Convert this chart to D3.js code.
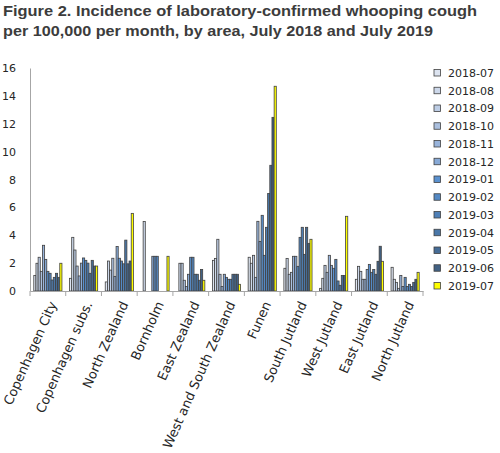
<!DOCTYPE html>
<html><head><meta charset="utf-8">
<script src="https://cdn.jsdelivr.net/npm/d3@7"></script>
<style>body{margin:0;background:#fff}svg{display:block}</style>
</head><body>
<svg id="c" width="500" height="453"></svg>
<script>
const areas = ["Copenhagen City","Copenhagen subs.","North Zealand","Bornholm","East Zealand","West and South Zealand","Funen","South Jutland","West Jutland","East Jutland","North Jutland"];
const months = ["2018-07","2018-08","2018-09","2018-10","2018-11","2018-12","2019-01","2019-02","2019-03","2019-04","2019-05","2019-06","2019-07"];
const monthColors = ["#dde4f0","#cdd8ea","#bdcde5","#abc0df","#99b4db","#87a9d6","#5a91cf","#5489c4","#4f80b7","#4a77a8","#466c96","#426183","#ffff00"];
// values per area, one per month (2018-07 .. 2019-07)
const copenhagenCity   = [1.12,1.99,2.42,1.41,3.28,2.27,1.41,1.27,0.79,0.98,1.27,0.98,1.99];
const copenhagenSubs   = [0.91,3.85,2.94,1.79,1.08,2.0,2.37,2.2,2.0,1.27,2.2,1.79,1.79];
const northZealand     = [0.65,2.15,1.5,2.35,1.05,3.2,2.35,2.15,1.95,3.65,1.95,2.15,5.57];
const bornholm         = [0,4.98,0,0,0,2.49,2.49,2.49,0,0,0,0,2.49];
const eastZealand      = [0,1.99,1.99,0.77,0.33,1.2,2.42,2.42,1.2,1.2,0.77,1.55,0.77];
const westSouthZealand = [2.2,2.34,3.71,1.2,0.33,1.2,0.98,0.84,0.84,1.2,1.2,1.2,0.48];
const funen            = [2.42,1.99,2.56,0.98,5.0,3.56,5.43,2.56,4.57,7.0,9.02,12.46,14.69];
const southJutland     = [1.63,2.34,1.2,1.34,2.49,2.49,1.77,3.85,4.57,2.63,4.57,3.42,3.71];
const westJutland      = [0.19,0.91,1.84,1.34,2.56,1.84,1.63,2.27,0.72,0.41,1.12,1.12,5.36];
const eastJutland      = [0.84,1.77,1.41,0.84,0.84,1.55,1.91,1.34,1.55,1.2,2.13,3.21,2.13];
const northJutland     = [1.7,0.84,0.62,0.19,1.12,0.33,0.98,0.33,0.48,0.33,0.62,0.84,1.34];
const yTicks = [0,2,4,6,8,10,12,14,16];
const titleLines = ["Figure 2. Incidence of laboratory-confirmed whooping cough","per 100,000 per month, by area, July 2018 and July 2019"];

const seriesByArea = [copenhagenCity,copenhagenSubs,northZealand,bornholm,eastZealand,westSouthZealand,funen,southJutland,westJutland,eastJutland,northJutland];
const rows = [];
areas.forEach((a,i)=>months.forEach((m,j)=>rows.push({area:a,month:m,value:seriesByArea[i][j]})));

const svg = d3.select("#c");
const font = "DejaVu Sans, sans-serif";

// title
svg.append("g").selectAll("text").data(titleLines).join("text")
  .attr("x",3).attr("y",(d,i)=>16+i*20)
  .attr("textLength",(d,i)=>i===0?474:430).attr("lengthAdjust","spacingAndGlyphs")
  .attr("font-family","Liberation Sans, Arial, sans-serif").attr("font-weight","bold")
  .attr("font-size",15.5).attr("fill","#3c3c3c").text(d=>d);

const x0 = d3.scaleBand().domain(areas).range([30,423]).paddingInner(0).paddingOuter(0);
const x1 = d3.scaleBand().domain(months).range([0,x0.bandwidth()]).paddingInner(0).paddingOuter(1.75);
const y = d3.scaleLinear().domain([0,16]).range([291,68]);
const color = d3.scaleOrdinal().domain(months).range(monthColors);

// bars
svg.append("g").selectAll("rect").data(rows.filter(d=>d.value>0)).join("rect")
  .attr("x",d=>x0(d.area)+x1(d.month))
  .attr("y",d=>y(d.value))
  .attr("width",x1.bandwidth())
  .attr("height",d=>y(0)-y(d.value))
  .attr("fill",d=>color(d.month))
  .attr("stroke","#404040").attr("stroke-width",0.8);

// y axis
const yAxis = svg.append("g").attr("transform","translate(30,0)")
  .call(d3.axisLeft(y).tickValues(yTicks).tickSize(0).tickPadding(14));
yAxis.select(".domain").attr("stroke","#a6a6a6");
yAxis.selectAll("text").attr("font-family",font).attr("font-size",11).attr("fill","#262626");

// x axis
const xAxis = svg.append("g").attr("transform","translate(0,291)")
  .call(d3.axisBottom(x0).tickSize(0).tickFormat(""));
xAxis.select(".domain").attr("stroke","#a6a6a6");
svg.append("g").selectAll("line").data(d3.range(areas.length+1)).join("line")
  .attr("x1",i=>30+i*x0.step()).attr("x2",i=>30+i*x0.step())
  .attr("y1",291).attr("y2",296).attr("stroke","#a6a6a6");

svg.append("g").selectAll("text").data(areas).join("text")
  .attr("transform",d=>`translate(${x0(d)+x0.bandwidth()/2+5},302) rotate(-66)`)
  .attr("text-anchor","end").attr("dy","0.35em")
  .attr("font-family",font).attr("font-size",13).attr("fill","#262626").text(d=>d);

// legend
const lg = svg.append("g").selectAll("g").data(months).join("g")
  .attr("transform",(d,i)=>`translate(434,${73+i*17.75})`);
lg.append("rect").attr("x",0).attr("y",-3.5).attr("width",6.5).attr("height",6.5)
  .attr("fill",d=>color(d)).attr("stroke","#404040").attr("stroke-width",0.8);
lg.append("text").attr("x",14).attr("dy","0.35em").attr("font-family",font)
  .attr("font-size",11).attr("fill","#262626").text(d=>d);
</script>
</body></html>
